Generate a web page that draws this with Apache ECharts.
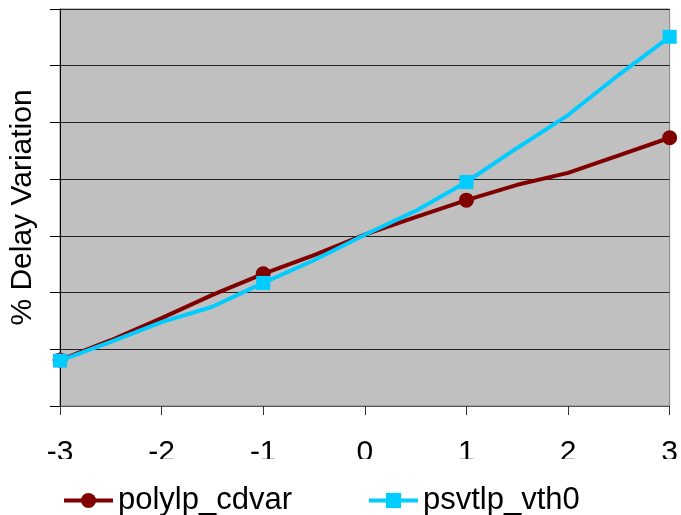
<!DOCTYPE html>
<html>
<head>
<meta charset="utf-8">
<script src="https://cdn.jsdelivr.net/npm/echarts@6/dist/echarts.min.js"></script>
<style>
  html, body { margin: 0; padding: 0; background: #fff; }
  #chart { width: 681px; height: 515px; }
</style>
</head>
<body>
<div id="chart"></div>
<script>
// x positions of the sampled points
const xValues = [-3, -2.5, -2, -1.5, -1, -0.5, 0, 0.5, 1, 1.5, 2, 2.5, 3]
// points that carry a marker
const markerX = [-3, -1, 1, 3]
const polylpCdvar = [0.81, 1.16, 1.55, 1.96, 2.33, 2.66, 3.02, 3.33, 3.63, 3.90, 4.11, 4.42, 4.73]
const psvtlpVth0 = [0.80, 1.13, 1.48, 1.75, 2.17, 2.57, 3.02, 3.44, 3.95, 4.55, 5.13, 5.84, 6.51]
const xTicks = [-3, -2, -1, 0, 1, 2, 3]

const font = 'Arial, "Liberation Sans", sans-serif'

const toData = (vals) => xValues.map((x, i) => {
  const item = { value: [x, vals[i]] }
  if (markerX.indexOf(x) < 0) item.symbol = 'none'
  return item
})

const chart = echarts.init(document.getElementById('chart'))

const legendText = { fontSize: 31, color: '#000', fontFamily: font }

const option = {
  animation: false,
  backgroundColor: '#fff',
  grid: {
    left: 59,
    right: 10,
    top: 9,
    bottom: 109,
    show: true,
    backgroundColor: '#c0c0c0',
    borderColor: '#808080',
    borderWidth: 1
  },
  legend: [
    {
      data: ['polylp_cdvar'],
      left: 57,
      top: 480,
      itemWidth: 49,
      itemHeight: 19,
      lineStyle: { width: 4 },
      textStyle: legendText
    },
    {
      data: ['psvtlp_vth0'],
      left: 362,
      top: 480,
      itemWidth: 49,
      itemHeight: 19,
      lineStyle: { width: 4 },
      textStyle: legendText
    }
  ],
  xAxis: {
    type: 'value',
    min: -3,
    max: 3,
    interval: 1,
    axisLine: { onZero: false, lineStyle: { color: '#555', width: 1 } },
    axisTick: { show: true, inside: false, length: 9, lineStyle: { color: '#333' } },
    axisLabel: {
      fontSize: 30,
      color: '#000',
      fontFamily: font,
      margin: 32,
      formatter: (v) => xTicks.indexOf(v) >= 0 ? String(v) : ''
    },
    splitLine: { show: false }
  },
  yAxis: {
    type: 'value',
    min: 0,
    max: 7,
    interval: 1,
    name: '% Delay Variation',
    nameLocation: 'middle',
    nameGap: 22,
    nameRotate: 90,
    nameTextStyle: { fontSize: 30, color: '#000', fontFamily: font },
    axisLine: { show: true, onZero: false, lineStyle: { color: '#000', width: 1 } },
    axisTick: { show: true, inside: false, length: 10, lineStyle: { color: '#000' } },
    axisLabel: { show: false },
    splitLine: { show: true, lineStyle: { color: '#222', width: 1 } }
  },
  graphic: [
    {
      // the tick labels are cut off at the bottom in the reference
      type: 'rect',
      z: 100,
      shape: { x: 0, y: 459, width: 681, height: 18 },
      style: { fill: '#fff' }
    }
  ],
  series: [
    {
      name: 'polylp_cdvar',
      type: 'line',
      data: toData(polylpCdvar),
      symbol: 'circle',
      symbolSize: 15,
      lineStyle: { color: '#800000', width: 4 },
      itemStyle: { color: '#800000' },
      z: 2
    },
    {
      name: 'psvtlp_vth0',
      type: 'line',
      data: toData(psvtlpVth0),
      symbol: 'rect',
      symbolSize: 14,
      lineStyle: { color: '#00ccff', width: 4 },
      itemStyle: { color: '#00ccff' },
      z: 3
    }
  ]
}

chart.setOption(option)
</script>
</body>
</html>
